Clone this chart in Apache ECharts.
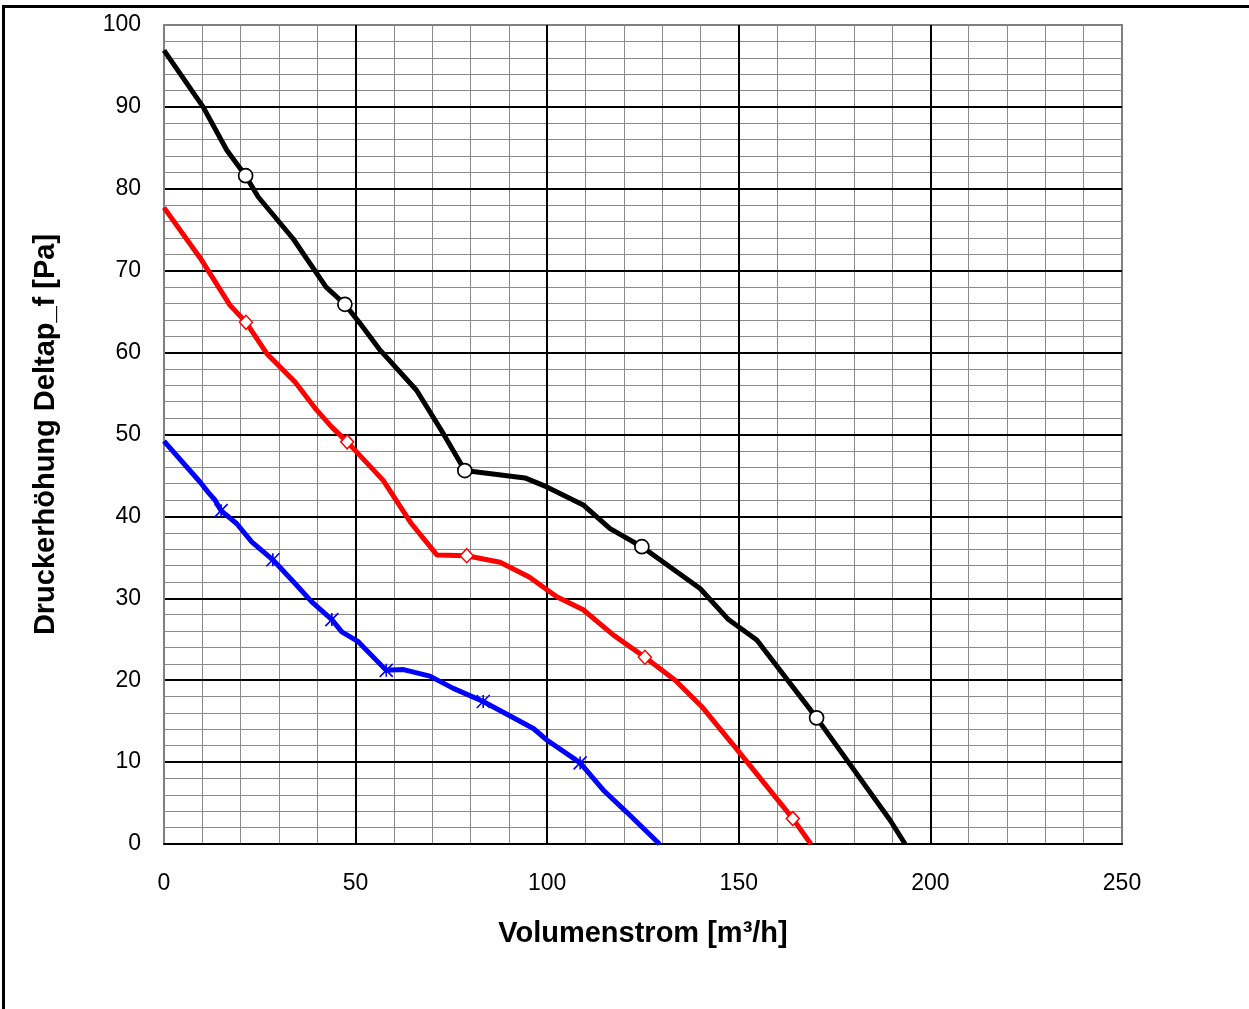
<!DOCTYPE html>
<html>
<head>
<meta charset="utf-8">
<script src="https://cdn.jsdelivr.net/npm/echarts@6/dist/echarts.min.js"></script>
<style>
html,body{margin:0;padding:0;background:#fff;}
#chart{width:1249px;height:1009px;}
</style>
</head>
<body>
<div id="chart"></div>
<script>
// Axis settings
const xTicks = [0, 50, 100, 150, 200, 250];
const yTicks = [0, 10, 20, 30, 40, 50, 60, 70, 80, 90, 100];
const xMinorStep = 10;
const yMinorStep = 2;

// Black curve (circle markers)
const blackLine = [[0,96.9],[10.2,90.0],[16.4,84.7],[21.3,81.6],[24.6,79.0],[33.7,73.9],[42.3,68.0],[47.2,65.9],
  [51.1,63.6],[56.4,60.3],[65.9,55.4],[72.9,50.1],[78.5,45.6],[94.2,44.7],[99.9,43.6],[109.4,41.4],[116.4,38.5],
  [124.7,36.3],[139.9,31.2],[147.3,27.4],[154.7,24.9],[170.3,15.4],[189.5,2.9],[193.4,0]];
const blackMarkers = [[21.3,81.6],[47.2,65.9],[78.5,45.6],[124.7,36.3],[170.3,15.4]];

// Red curve (diamond markers)
const redLine = [[0,77.7],[9.8,71.3],[17.2,65.8],[21.4,63.7],[26.8,59.9],[34.2,56.4],[39.8,53.0],[43.8,50.9],
  [47.8,49.1],[57.2,44.4],[64.6,39.1],[71.2,35.3],[79.0,35.2],[87.7,34.4],[95.3,32.6],[102.5,30.2],[109.4,28.6],
  [117.3,25.5],[125.5,22.8],[133.4,20.0],[140.3,16.8],[150.3,11.1],[156.0,7.8],[164.1,3.1],[168.8,0]];
const redMarkers = [[21.4,63.7],[47.8,49.1],[79.0,35.2],[125.5,22.8],[164.1,3.1]];

// Blue curve (asterisk markers)
const blueLine = [[0,49.2],[9.4,44.2],[11.6,42.9],[13.3,42.0],[14.9,40.7],[19.0,39.1],[22.9,36.9],[28.4,34.7],
  [34.2,31.8],[38.5,29.6],[43.8,27.4],[46.4,25.9],[50.7,24.7],[58.0,21.2],[62.5,21.3],[69.4,20.5],[75.5,19.0],
  [83.3,17.4],[96.4,14.1],[99.9,12.7],[108.6,9.9],[114.6,6.6],[120.7,3.9],[129.3,0]];
const blueMarkers = [[14.9,40.7],[28.4,34.7],[43.8,27.4],[58.0,21.2],[83.3,17.4],[108.6,9.9]];

const xName = 'Volumenstrom [m³/h]';
const yName = 'Druckerhöhung Deltap_f [Pa]';

const FONT = '"Liberation Sans", Arial, sans-serif';
const chart = echarts.init(document.getElementById('chart'), null, {renderer:'canvas'});

const asterisk = 'path://M0,0 L10,10 M10,0 L0,10 M5,0 L5,10';
const xMin = xTicks[0], xMax = xTicks[xTicks.length-1];
const yMin = yTicks[0], yMax = yTicks[yTicks.length-1];

chart.setOption({
  animation: false,
  backgroundColor: '#fff',
  graphic: [{
    type: 'rect', z: 100,
    shape: {x: 3.5, y: 6.5, width: 1400, height: 1200},
    style: {fill: 'none', stroke: '#000', lineWidth: 3}
  }],
  grid: {left: 164, top: 25, width: 958, height: 819, show: true, borderColor: '#808080', borderWidth: 2, backgroundColor: 'transparent'},
  xAxis: [{
    type: 'value', min: xMin, max: xMax, interval: xTicks[1]-xTicks[0], z: 2,
    name: xName, nameLocation: 'middle', nameGap: 75,
    nameTextStyle: {fontFamily: FONT, fontSize: 29, fontWeight: 'bold', color: '#000'},
    axisLine: {show: true, onZero: false, lineStyle: {color: '#000', width: 2}},
    axisTick: {show: false},
    axisLabel: {fontFamily: FONT, fontSize: 23, color: '#000', margin: 28},
    splitLine: {show: true, showMinLine: false, showMaxLine: false, lineStyle: {color: '#000', width: 2}}
  }, {
    type: 'value', min: xMin, max: xMax, interval: xMinorStep, z: 1, position: 'bottom',
    axisLine: {show: false}, axisTick: {show: false}, axisLabel: {show: false},
    splitLine: {show: true, showMinLine: false, showMaxLine: false, lineStyle: {color: '#8a8a8a', width: 1}}
  }],
  yAxis: [{
    type: 'value', min: yMin, max: yMax, interval: yTicks[1]-yTicks[0], z: 2,
    name: yName, nameLocation: 'middle', nameGap: 104, nameRotate: 90,
    nameTextStyle: {fontFamily: FONT, fontSize: 29, fontWeight: 'bold', color: '#000'},
    axisLine: {show: true, lineStyle: {color: '#808080', width: 2}},
    axisTick: {show: false},
    axisLabel: {fontFamily: FONT, fontSize: 23, color: '#000', margin: 23},
    splitLine: {show: true, showMinLine: true, showMaxLine: false, lineStyle: {color: '#000', width: 2}}
  }, {
    type: 'value', min: yMin, max: yMax, interval: yMinorStep, z: 1, position: 'left',
    axisLine: {show: false}, axisTick: {show: false}, axisLabel: {show: false},
    splitLine: {show: true, showMinLine: false, showMaxLine: false, lineStyle: {color: '#8a8a8a', width: 1}}
  }],
  series: [
    {type: 'line', data: blackLine, showSymbol: false, lineStyle: {color: '#000', width: 5}, z: 3},
    {type: 'line', data: redLine, showSymbol: false, lineStyle: {color: '#ff0000', width: 5}, z: 3},
    {type: 'line', data: blueLine, showSymbol: false, lineStyle: {color: '#0000ff', width: 5}, z: 3},
    {type: 'scatter', data: blackMarkers, symbol: 'circle', symbolSize: 14, z: 5,
      itemStyle: {color: '#fff', borderColor: '#000', borderWidth: 1.7, opacity: 1}},
    {type: 'scatter', data: redMarkers, symbol: 'diamond', symbolSize: [13, 14], z: 5,
      itemStyle: {color: '#fff', borderColor: '#ff0000', borderWidth: 1.5, opacity: 1}},
    {type: 'scatter', data: blueMarkers, symbol: asterisk, symbolSize: 13, z: 5,
      itemStyle: {color: 'none', borderColor: '#0000ff', borderWidth: 1.6, opacity: 1}}
  ]
});
</script>
</body>
</html>
